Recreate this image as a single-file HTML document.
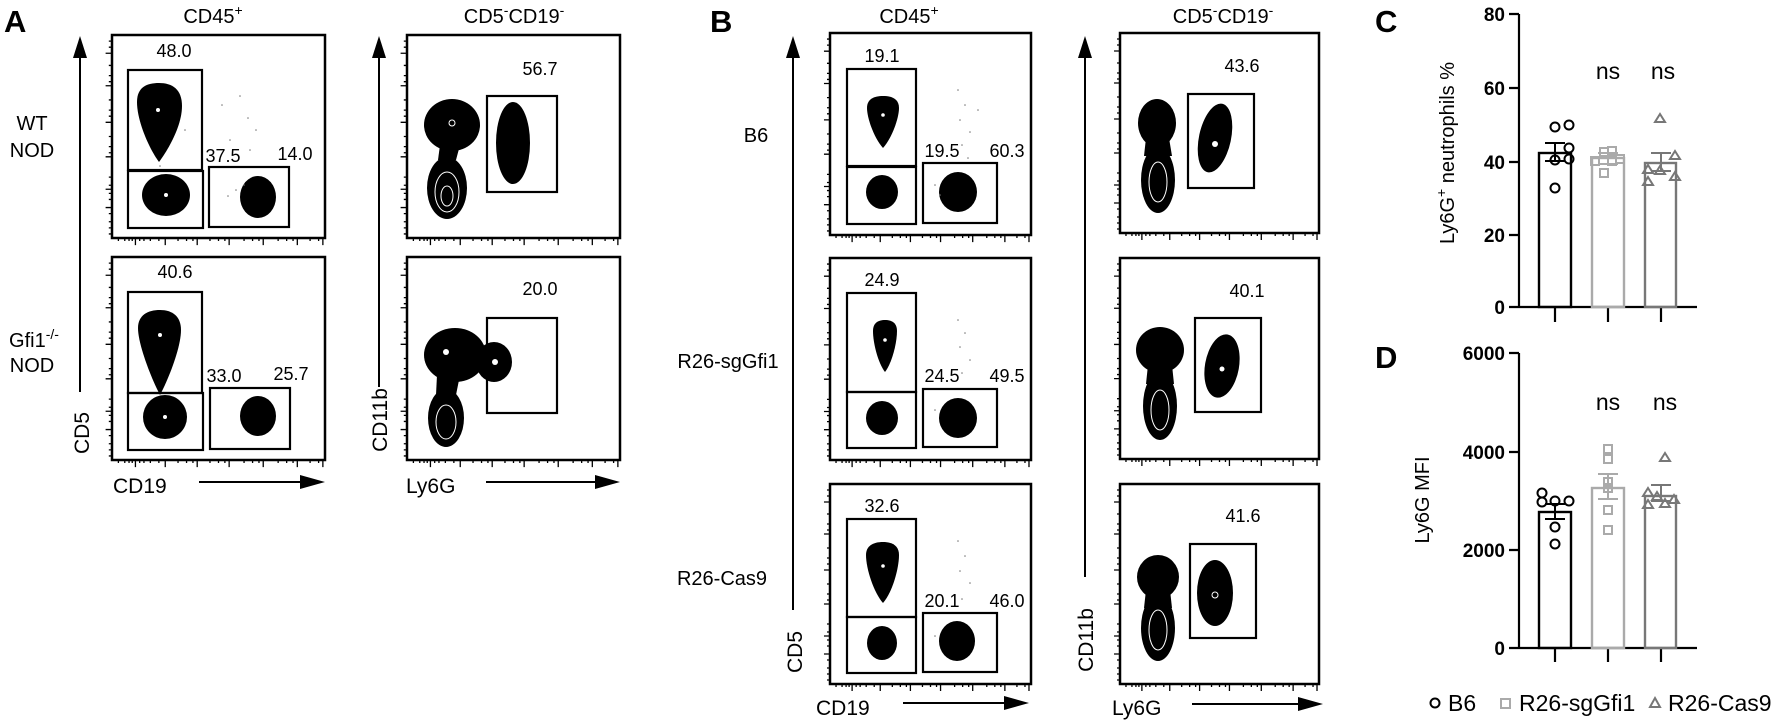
<!DOCTYPE html>
<html><head><meta charset="utf-8"><style>
html,body{margin:0;padding:0;background:#fff;}
svg{display:block;font-family:"Liberation Sans",Arial,sans-serif;}
</style></head><body>
<svg width="1772" height="724" viewBox="0 0 1772 724" xmlns="http://www.w3.org/2000/svg">
<defs>
<g id="tk" fill="none" stroke="#000">
<path vector-effect="non-scaling-stroke" stroke-width="1.3" d="M6,200v3M12,200v3M16,200v3M19,200v3M22,200v7M26,200v3M30,200v3M36,200v3M44,200v3M50,200v7M62,200v3M70,200v3M76,200v3M80,200v7M92,200v3M100,200v3M106,200v3M110,200v7M124,200v3M132,200v3M138,200v3M142,200v7M156,200v3M164,200v3M170,200v3M174,200v7M186,200v3M194,200v3M198,200v7
M0,6h-3M0,12h-3M0,18h-6M0,30h-3M0,40h-3M0,46h-3M0,50h-6M0,64h-3M0,74h-3M0,80h-3M0,86h-6M0,100h-3M0,110h-3M0,116h-3M0,120h-6M0,140h-3M0,148h-3M0,152h-6M0,156h-3M0,162h-3M0,170h-6M0,176h-3M0,184h-3M0,190h-3M0,196h-3"/>
</g>
</defs>

<g font-size="20">
<!-- ================= PANEL A ================= -->
<text x="4" y="32" font-size="31" font-weight="bold">A</text>
<text x="213" y="23" text-anchor="middle">CD45<tspan font-size="14" dy="-8">+</tspan></text>
<text x="514" y="23" text-anchor="middle">CD5<tspan font-size="14" dy="-8">-</tspan><tspan dy="8">CD19</tspan><tspan font-size="14" dy="-8">-</tspan></text>
<text x="32" y="130" text-anchor="middle">WT</text>
<text x="32" y="157" text-anchor="middle">NOD</text>
<text x="34" y="347" text-anchor="middle">Gfi1<tspan font-size="14" dy="-8">-/-</tspan></text>
<text x="32" y="372" text-anchor="middle">NOD</text>

<line x1="80" y1="56" x2="80" y2="392" stroke="#000" stroke-width="2"/>
<polygon points="80,36 73,58 87,58"/>
<text transform="translate(89,433) rotate(-90)" text-anchor="middle" font-size="21">CD5</text>
<line x1="379" y1="56" x2="379" y2="387" stroke="#000" stroke-width="2"/>
<polygon points="379,36 372,58 386,58"/>
<text transform="translate(387,420) rotate(-90)" text-anchor="middle" font-size="21">CD11b</text>

<text x="113" y="493" font-size="21">CD19</text>
<line x1="199" y1="482" x2="305" y2="482" stroke="#000" stroke-width="2"/>
<polygon points="325,482 300,475 300,489"/>
<text x="406" y="493" font-size="21">Ly6G</text>
<line x1="486" y1="482" x2="600" y2="482" stroke="#000" stroke-width="2"/>
<polygon points="620,482 595,475 595,489"/>

<!-- A1 -->
<rect x="112" y="35" width="213" height="203" fill="none" stroke="#000" stroke-width="2.5"/>
<use href="#tk" transform="translate(112,35) scale(1.065,1.015)"/>
<path d="M159,162 C150,150 137,122 137,102 C137,87 147,83 159,83 C172,83 182,89 182,106 C182,126 168,150 159,162Z"/>
<circle cx="158" cy="110" r="2" fill="#fff"/>
<ellipse cx="166" cy="195" rx="24" ry="21"/>
<circle cx="166" cy="195" r="2" fill="#fff"/>
<ellipse cx="258" cy="197" rx="18" ry="21"/>
<g fill="#777"><circle cx="222" cy="105" r="0.8"/><circle cx="240" cy="96" r="0.8"/><circle cx="248" cy="118" r="0.8"/><circle cx="256" cy="130" r="0.8"/><circle cx="230" cy="140" r="0.8"/><circle cx="250" cy="150" r="0.8"/><circle cx="236" cy="190" r="0.8"/><circle cx="228" cy="196" r="0.8"/><circle cx="244" cy="185" r="0.8"/><circle cx="150" cy="170" r="0.8"/><circle cx="160" cy="166" r="0.8"/><circle cx="185" cy="130" r="0.8"/></g>
<g fill="none" stroke="#000" stroke-width="2.2">
<rect x="128" y="70" width="74" height="100"/>
<rect x="128" y="171" width="75" height="57"/>
<rect x="209" y="167" width="80" height="60"/>
</g>
<g font-size="18" text-anchor="middle">
<text x="174" y="57">48.0</text><text x="223" y="162">37.5</text><text x="295" y="160">14.0</text>
</g>

<!-- A2 -->
<rect x="112" y="257" width="213" height="203" fill="none" stroke="#000" stroke-width="2.5"/>
<use href="#tk" transform="translate(112,257) scale(1.065,1.015)"/>
<path d="M160,395 C152,380 138,345 138,328 C138,315 148,310 160,310 C172,310 181,316 181,330 C181,348 168,380 160,395Z"/>
<circle cx="160" cy="335" r="2" fill="#fff"/>
<ellipse cx="165" cy="417" rx="22" ry="22"/>
<circle cx="165" cy="417" r="2" fill="#fff"/>
<ellipse cx="258" cy="416" rx="18" ry="20"/>
<g fill="none" stroke="#000" stroke-width="2.2">
<rect x="128" y="292" width="74" height="101"/>
<rect x="128" y="393" width="75" height="57"/>
<rect x="210" y="388" width="80" height="61"/>
</g>
<g font-size="18" text-anchor="middle">
<text x="175" y="278">40.6</text><text x="224" y="382">33.0</text><text x="291" y="380">25.7</text>
</g>

<!-- A3 -->
<rect x="407" y="35" width="213" height="203" fill="none" stroke="#000" stroke-width="2.5"/>
<use href="#tk" transform="translate(407,35) scale(1.065,1.015)"/>
<ellipse cx="452" cy="125" rx="28" ry="26"/>
<path d="M440,145 L438,160 L456,160 L460,145Z"/>
<ellipse cx="447" cy="188" rx="20" ry="31"/>
<ellipse cx="447" cy="192" rx="12" ry="20" fill="none" stroke="#fff" stroke-width="1"/>
<ellipse cx="447" cy="196" rx="6" ry="10" fill="none" stroke="#fff" stroke-width="1"/>
<ellipse cx="513" cy="143" rx="17" ry="41"/>
<circle cx="452" cy="123" r="3" fill="none" stroke="#fff"/>
<rect x="487" y="96" width="70" height="96" fill="none" stroke="#000" stroke-width="2.2"/>
<text x="540" y="75" font-size="18" text-anchor="middle">56.7</text>

<!-- A4 -->
<rect x="407" y="257" width="213" height="203" fill="none" stroke="#000" stroke-width="2.5"/>
<use href="#tk" transform="translate(407,257) scale(1.065,1.015)"/>
<ellipse cx="455" cy="355" rx="31" ry="27"/>
<ellipse cx="494" cy="362" rx="18" ry="20"/>
<path d="M437,375 L436,395 L456,395 L460,375Z"/>
<ellipse cx="446" cy="418" rx="18" ry="29"/>
<ellipse cx="446" cy="422" rx="10" ry="17" fill="none" stroke="#fff" stroke-width="1"/>
<circle cx="446" cy="352" r="3" fill="#fff"/>
<circle cx="495" cy="362" r="3" fill="#fff"/>
<rect x="487" y="318" width="70" height="95" fill="none" stroke="#000" stroke-width="2.2"/>
<text x="540" y="295" font-size="18" text-anchor="middle">20.0</text>

<!-- ================= PANEL B ================= -->
<text x="710" y="32" font-size="31" font-weight="bold">B</text>
<text x="909" y="23" text-anchor="middle">CD45<tspan font-size="14" dy="-8">+</tspan></text>
<text x="1223" y="23" text-anchor="middle">CD5<tspan font-size="14" dy="-8">-</tspan><tspan dy="8">CD19</tspan><tspan font-size="14" dy="-8">-</tspan></text>
<text x="756" y="142" text-anchor="middle">B6</text>
<text x="728" y="368" text-anchor="middle">R26-sgGfi1</text>
<text x="722" y="585" text-anchor="middle">R26-Cas9</text>

<line x1="793" y1="56" x2="793" y2="610" stroke="#000" stroke-width="2"/>
<polygon points="793,36 786,58 800,58"/>
<text transform="translate(802,652) rotate(-90)" text-anchor="middle" font-size="21">CD5</text>
<line x1="1085" y1="56" x2="1085" y2="577" stroke="#000" stroke-width="2"/>
<polygon points="1085,36 1078,58 1092,58"/>
<text transform="translate(1093,640) rotate(-90)" text-anchor="middle" font-size="21">CD11b</text>

<text x="816" y="715" font-size="21">CD19</text>
<line x1="903" y1="703" x2="1010" y2="703" stroke="#000" stroke-width="2"/>
<polygon points="1029,703 1004,696 1004,710"/>
<text x="1112" y="715" font-size="21">Ly6G</text>
<line x1="1192" y1="704" x2="1303" y2="704" stroke="#000" stroke-width="2"/>
<polygon points="1323,704 1298,697 1298,711"/>

<!-- B left plots -->
<g>
<rect x="830" y="33" width="201" height="202" fill="none" stroke="#000" stroke-width="2.5"/>
<use href="#tk" transform="translate(830,33) scale(1.005,1.01)"/>
<path d="M883,148 C874,138 867,118 867,108 C867,99 874,96 883,96 C892,96 899,99 899,108 C899,118 892,138 883,148Z"/>
<circle cx="883" cy="115" r="1.8" fill="#fff"/>
<ellipse cx="882" cy="192" rx="16" ry="17"/>
<ellipse cx="958" cy="192" rx="19" ry="20"/>
<g fill="#777"><circle cx="958" cy="90" r="0.8"/><circle cx="965" cy="105" r="0.8"/><circle cx="960" cy="120" r="0.8"/><circle cx="970" cy="132" r="0.8"/><circle cx="962" cy="145" r="0.8"/><circle cx="968" cy="158" r="0.8"/><circle cx="978" cy="110" r="0.8"/><circle cx="935" cy="185" r="0.8"/><circle cx="940" cy="195" r="0.8"/></g>
<g fill="none" stroke="#000" stroke-width="2.2">
<rect x="847" y="69" width="69" height="97"/>
<rect x="847" y="167" width="69" height="57"/>
<rect x="923" y="163" width="74" height="60"/>
</g>
</g>
<g font-size="18" text-anchor="middle">
<text x="882" y="62">19.1</text><text x="942" y="157">19.5</text><text x="1007" y="157">60.3</text>
</g>

<g transform="translate(0,225)">
<rect x="830" y="33" width="201" height="202" fill="none" stroke="#000" stroke-width="2.5"/>
<use href="#tk" transform="translate(830,33) scale(1.005,1.01)"/>
<path d="M885,147 C878,138 873,118 873,106 C873,98 878,95 885,95 C892,95 897,98 897,106 C897,118 892,138 885,147Z"/>
<circle cx="885" cy="115" r="1.8" fill="#fff"/>
<ellipse cx="882" cy="193" rx="16" ry="17"/>
<ellipse cx="958" cy="193" rx="19" ry="20"/>
<g fill="#777"><circle cx="958" cy="95" r="0.8"/><circle cx="965" cy="108" r="0.8"/><circle cx="960" cy="122" r="0.8"/><circle cx="970" cy="135" r="0.8"/><circle cx="962" cy="148" r="0.8"/><circle cx="935" cy="185" r="0.8"/></g>
<g fill="none" stroke="#000" stroke-width="2.2">
<rect x="847" y="68" width="69" height="99"/>
<rect x="847" y="167" width="69" height="56"/>
<rect x="923" y="164" width="74" height="58"/>
</g>
</g>
<g font-size="18" text-anchor="middle">
<text x="882" y="286">24.9</text><text x="942" y="382">24.5</text><text x="1007" y="382">49.5</text>
</g>

<g transform="translate(0,451)">
<rect x="830" y="33" width="201" height="200" fill="none" stroke="#000" stroke-width="2.5"/>
<use href="#tk" transform="translate(830,33) scale(1.005,1)"/>
<path d="M883,152 C874,142 866,118 866,104 C866,95 873,91 883,91 C893,91 899,95 899,104 C899,118 892,142 883,152Z"/>
<circle cx="883" cy="115" r="1.8" fill="#fff"/>
<ellipse cx="882" cy="192" rx="15" ry="17"/>
<ellipse cx="957" cy="190" rx="18" ry="20"/>
<g fill="#777"><circle cx="958" cy="90" r="0.8"/><circle cx="965" cy="105" r="0.8"/><circle cx="960" cy="120" r="0.8"/><circle cx="970" cy="132" r="0.8"/><circle cx="962" cy="148" r="0.8"/><circle cx="935" cy="185" r="0.8"/></g>
<g fill="none" stroke="#000" stroke-width="2.2">
<rect x="847" y="68" width="69" height="98"/>
<rect x="847" y="166" width="69" height="56"/>
<rect x="923" y="162" width="74" height="59"/>
</g>
</g>
<g font-size="18" text-anchor="middle">
<text x="882" y="512">32.6</text><text x="942" y="607">20.1</text><text x="1007" y="607">46.0</text>
</g>

<!-- B right plots -->
<rect x="1120" y="33" width="199" height="200" fill="none" stroke="#000" stroke-width="2.5"/>
<use href="#tk" transform="translate(1120,33) scale(0.995,1)"/>
<ellipse cx="1157" cy="123" rx="19" ry="24"/>
<path d="M1146,138 L1144,156 L1172,156 L1169,138Z"/>
<ellipse cx="1158" cy="180" rx="17" ry="33"/>
<ellipse cx="1158" cy="182" rx="9" ry="20" fill="none" stroke="#fff" stroke-width="1"/>
<ellipse cx="1215" cy="138" rx="16" ry="35" transform="rotate(12 1215 138)"/>
<circle cx="1215" cy="144" r="3" fill="#fff"/>
<rect x="1188" y="94" width="66" height="94" fill="none" stroke="#000" stroke-width="2.2"/>
<text x="1242" y="72" font-size="18" text-anchor="middle">43.6</text>

<rect x="1120" y="258" width="199" height="201" fill="none" stroke="#000" stroke-width="2.5"/>
<use href="#tk" transform="translate(1120,258) scale(0.995,1.005)"/>
<ellipse cx="1160" cy="350" rx="24" ry="23"/>
<path d="M1148,365 L1146,384 L1174,384 L1172,365Z"/>
<ellipse cx="1160" cy="406" rx="17" ry="34"/>
<ellipse cx="1160" cy="410" rx="9" ry="20" fill="none" stroke="#fff" stroke-width="1"/>
<ellipse cx="1222" cy="366" rx="17" ry="32" transform="rotate(10 1222 366)"/>
<circle cx="1222" cy="369" r="2.5" fill="#fff"/>
<rect x="1195" y="318" width="66" height="94" fill="none" stroke="#000" stroke-width="2.2"/>
<text x="1247" y="297" font-size="18" text-anchor="middle">40.1</text>

<rect x="1120" y="484" width="199" height="200" fill="none" stroke="#000" stroke-width="2.5"/>
<use href="#tk" transform="translate(1120,484) scale(0.995,1)"/>
<ellipse cx="1158" cy="577" rx="21" ry="22"/>
<path d="M1146,590 L1144,608 L1172,608 L1170,590Z"/>
<ellipse cx="1158" cy="628" rx="17" ry="33"/>
<ellipse cx="1158" cy="630" rx="9" ry="20" fill="none" stroke="#fff" stroke-width="1"/>
<ellipse cx="1215" cy="593" rx="18" ry="33"/>
<circle cx="1215" cy="595" r="3" fill="none" stroke="#fff"/>
<rect x="1190" y="544" width="66" height="94" fill="none" stroke="#000" stroke-width="2.2"/>
<text x="1243" y="522" font-size="18" text-anchor="middle">41.6</text>
</g>

<!-- ================= PANEL C ================= -->
<g font-size="20">
<text x="1375" y="32" font-size="31" font-weight="bold">C</text>
<g stroke="#000" stroke-width="2.2" fill="none">
<path d="M1519,14V307H1697M1509,14h10M1509,88h10M1509,162h10M1509,235h10M1509,307h10M1555,307v15M1608,307v15M1661,307v15"/>
</g>
<g font-weight="bold" text-anchor="end" font-size="19">
<text x="1505" y="21">80</text><text x="1505" y="95">60</text><text x="1505" y="169">40</text><text x="1505" y="242">20</text><text x="1505" y="314">0</text>
</g>
<text transform="translate(1454,153) rotate(-90)" text-anchor="middle">Ly6G<tspan font-size="14" dy="-8">+</tspan><tspan dy="8"> neutrophils %</tspan></text>
<text x="1608" y="79" text-anchor="middle" font-size="23">ns</text>
<text x="1663" y="79" text-anchor="middle" font-size="23">ns</text>
<rect x="1539" y="153" width="32" height="154" fill="none" stroke="#000" stroke-width="2.4"/>
<rect x="1592" y="158" width="32" height="149" fill="none" stroke="#aaa" stroke-width="2.4"/>
<rect x="1645" y="163" width="31" height="144" fill="none" stroke="#777" stroke-width="2.4"/>
<path d="M1555,153V143M1545,143h20M1555,153v8M1545,161h20" stroke="#000" stroke-width="2" fill="none"/>
<path d="M1608,158V153M1598,153h20M1608,158v6M1598,164h20" stroke="#aaa" stroke-width="2" fill="none"/>
<path d="M1661,163V153M1651,153h20M1661,163v8M1651,171h20" stroke="#777" stroke-width="2" fill="none"/>
<g fill="none" stroke="#000" stroke-width="2">
<circle cx="1555" cy="127" r="4.5"/><circle cx="1569" cy="125" r="4.5"/><circle cx="1569" cy="148" r="4.5"/><circle cx="1555" cy="160" r="4.5"/><circle cx="1569" cy="159" r="4.5"/><circle cx="1555" cy="188" r="4.5"/>
</g>
<g fill="none" stroke="#aaa" stroke-width="2">
<rect x="1600" y="148" width="8" height="8"/><rect x="1608" y="147" width="8" height="8"/><rect x="1591" y="157" width="8" height="8"/><rect x="1616" y="155" width="8" height="8"/><rect x="1600" y="169" width="8" height="8"/><rect x="1608" y="157" width="8" height="8"/>
</g>
<g fill="none" stroke="#777" stroke-width="2">
<path d="M1660,114l5,8h-10z M1675,151l5,8h-10z M1648,165l5,8h-10z M1660,166l5,8h-10z M1648,177l5,8h-10z M1675,172l5,8h-10z"/>
</g>

<!-- ================= PANEL D ================= -->
<text x="1375" y="368" font-size="31" font-weight="bold">D</text>
<g stroke="#000" stroke-width="2.2" fill="none">
<path d="M1519,353V648H1697M1509,353h10M1509,452h10M1509,550h10M1509,648h10M1555,648v14M1608,648v14M1661,648v14"/>
</g>
<g font-weight="bold" text-anchor="end" font-size="19">
<text x="1505" y="360">6000</text><text x="1505" y="459">4000</text><text x="1505" y="557">2000</text><text x="1505" y="655">0</text>
</g>
<text transform="translate(1429,500) rotate(-90)" text-anchor="middle">Ly6G MFI</text>
<text x="1608" y="410" text-anchor="middle" font-size="23">ns</text>
<text x="1665" y="410" text-anchor="middle" font-size="23">ns</text>
<rect x="1539" y="512" width="32" height="136" fill="none" stroke="#000" stroke-width="2.4"/>
<rect x="1592" y="488" width="32" height="160" fill="none" stroke="#aaa" stroke-width="2.4"/>
<rect x="1645" y="496" width="31" height="152" fill="none" stroke="#777" stroke-width="2.4"/>
<path d="M1555,512V504M1545,504h20M1555,512v7M1545,519h20" stroke="#000" stroke-width="2" fill="none"/>
<path d="M1608,488V474M1598,474h20M1608,488v11M1598,499h20" stroke="#aaa" stroke-width="2" fill="none"/>
<path d="M1661,496V485M1651,485h20M1661,496v5M1651,501h20" stroke="#777" stroke-width="2" fill="none"/>
<g fill="none" stroke="#000" stroke-width="2">
<circle cx="1542" cy="493" r="4.5"/><circle cx="1555" cy="501" r="4.5"/><circle cx="1542" cy="502" r="4.5"/><circle cx="1569" cy="501" r="4.5"/><circle cx="1555" cy="527" r="4.5"/><circle cx="1555" cy="544" r="4.5"/>
</g>
<g fill="none" stroke="#aaa" stroke-width="2">
<rect x="1604" y="445" width="8" height="8"/><rect x="1604" y="455" width="8" height="8"/><rect x="1604" y="478" width="8" height="8"/><rect x="1604" y="484" width="8" height="8"/><rect x="1604" y="506" width="8" height="8"/><rect x="1604" y="526" width="8" height="8"/>
</g>
<g fill="none" stroke="#777" stroke-width="2">
<path d="M1665,453l5,8h-10z M1648,488l5,8h-10z M1657,492l5,8h-10z M1674,495l5,8h-10z M1648,500l5,8h-10z M1665,499l5,8h-10z"/>
</g>

<circle cx="1435" cy="703" r="4.5" fill="none" stroke="#000" stroke-width="2"/>
<text x="1448" y="711" font-size="23">B6</text>
<rect x="1501" y="699" width="9" height="9" fill="none" stroke="#aaa" stroke-width="2"/>
<text x="1519" y="711" font-size="23">R26-sgGfi1</text>
<path d="M1655,698l5,9h-10z" fill="none" stroke="#777" stroke-width="2"/>
<text x="1668" y="711" font-size="23">R26-Cas9</text>
</g>
</svg>
</body></html>
